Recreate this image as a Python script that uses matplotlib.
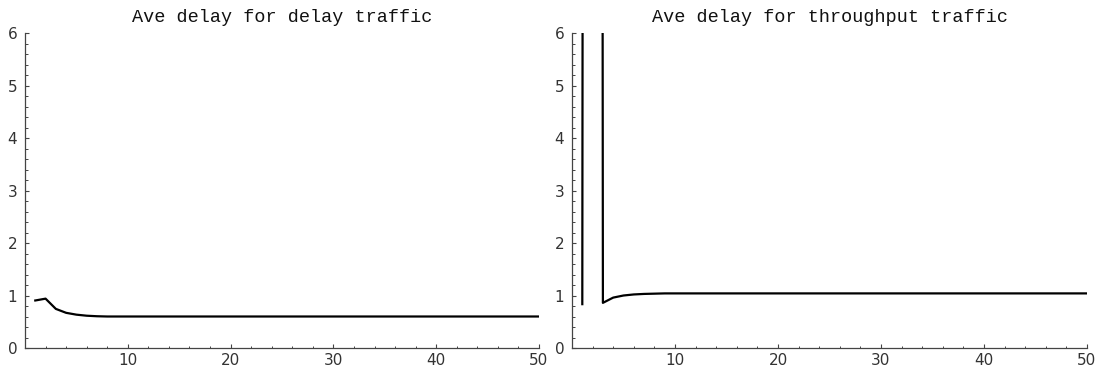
import matplotlib
matplotlib.use("Agg")
import matplotlib.pyplot as plt
from matplotlib.ticker import MultipleLocator

# Average delay per step, steps 1..50
steps = list(range(1, 51))
delay_traffic = [0.905, 0.94, 0.745, 0.67, 0.635, 0.615, 0.605, 0.60, 0.60, 0.60,
                 0.60, 0.60, 0.60, 0.60, 0.60, 0.60, 0.60, 0.60, 0.60, 0.60,
                 0.60, 0.60, 0.60, 0.60, 0.60, 0.60, 0.60, 0.60, 0.60, 0.60,
                 0.60, 0.60, 0.60, 0.60, 0.60, 0.60, 0.60, 0.60, 0.60, 0.60,
                 0.60, 0.60, 0.60, 0.60, 0.60, 0.60, 0.60, 0.60, 0.60, 0.60]
throughput_traffic = [0.835, 200.0, 0.86, 0.96, 1.0, 1.02, 1.03, 1.035, 1.04, 1.04,
                      1.04, 1.04, 1.04, 1.04, 1.04, 1.04, 1.04, 1.04, 1.04, 1.04,
                      1.04, 1.04, 1.04, 1.04, 1.04, 1.04, 1.04, 1.04, 1.04, 1.04,
                      1.04, 1.04, 1.04, 1.04, 1.04, 1.04, 1.04, 1.04, 1.04, 1.04,
                      1.04, 1.04, 1.04, 1.04, 1.04, 1.04, 1.04, 1.04, 1.04, 1.04]

titles = ["Ave delay for delay traffic", "Ave delay for throughput traffic"]
x_ticks = [10, 20, 30, 40, 50]
y_ticks = [0, 1, 2, 3, 4, 5, 6]

W, H = 1104, 375
fig = plt.figure(figsize=(W / 100, H / 100), dpi=100)

axis_color = "#444444"
panels = [
    (25, 539, delay_traffic, titles[0]),
    (572, 1087, throughput_traffic, titles[1]),
]
y0_px, y6_px = 348, 33

for x0_px, x50_px, series, title in panels:
    ax = fig.add_axes([x0_px / W, 1 - y0_px / H,
                       (x50_px - x0_px) / W, (y0_px - y6_px) / H])
    ax.plot(steps, series, color="black", lw=1.6, solid_joinstyle="round")
    ax.set_xlim(0, 50)
    ax.set_ylim(0, 6)
    for s in ("top", "right"):
        ax.spines[s].set_visible(False)
    for s in ("left", "bottom"):
        ax.spines[s].set_color(axis_color)
        ax.spines[s].set_linewidth(0.9)
    ax.set_xticks(x_ticks)
    ax.set_yticks(y_ticks)
    ax.xaxis.set_minor_locator(MultipleLocator(2))
    ax.yaxis.set_minor_locator(MultipleLocator(0.2))
    ax.tick_params(which="major", direction="in", length=3.2, width=0.8,
                   color=axis_color, labelsize=11, pad=3.5)
    ax.tick_params(which="minor", direction="in", length=1.8, width=0.7,
                   color=axis_color)
    ax.tick_params(axis="y", pad=5.5)
    for lbl in ax.get_xticklabels() + ax.get_yticklabels():
        lbl.set_color("#333333")
    ax.patch.set_visible(False)
    fig.text((x0_px + x50_px) / 2 / W, 1 - 22 / H, title,
             ha="center", va="baseline", fontsize=13.3,
             family="Liberation Mono", color="#111111")

fig.savefig("out.png", dpi=100)
